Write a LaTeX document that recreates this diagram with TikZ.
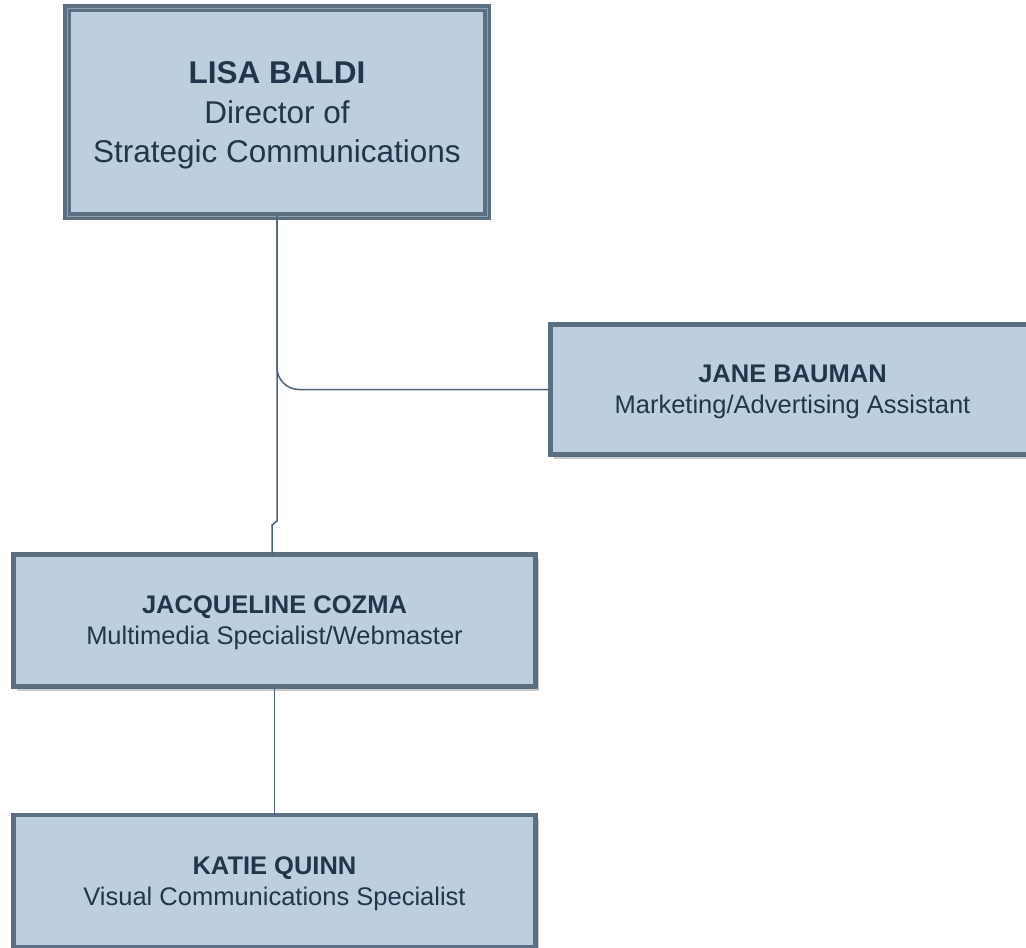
\documentclass[tikz,border=0pt]{standalone}
\usepackage{fontspec}
\setmainfont{Liberation Sans}
\usetikzlibrary{shadows}
\definecolor{boxfill}{HTML}{BDCFDF}
\definecolor{boxline}{HTML}{5C6F82}
\definecolor{boxinner}{HTML}{8FA2B4}
\definecolor{txt}{HTML}{22364B}
\definecolor{conncol}{HTML}{4E6276}
\tikzset{
  orgbox/.style={rectangle, draw=boxline, fill=boxfill, line width=4.5pt,
    inner sep=0pt, outer sep=0pt, align=center, text=txt, text depth=0pt,
    drop shadow={shadow xshift=3pt, shadow yshift=-4pt, fill=black!40, opacity=0.5},
    font={\fontsize{25.5}{31}\selectfont}},
  topbox/.style={orgbox, line width=3.5pt, double=boxinner, double distance=1pt,
    font={\fontsize{31.5}{39.5}\selectfont}},
  conn/.style={draw=conncol, line width=1.5pt}
}
\begin{document}
\begin{tikzpicture}[x=1pt,y=-1pt]
\useasboundingbox (0,0) rectangle (1026,948);
\fill[white] (0,0) rectangle (1026,948);
\node[topbox, minimum width=420pt, minimum height=208pt] (lisa) at (277,112)
  {\textbf{LISA BALDI}\\Director of\\Strategic Communications};
\node[orgbox, minimum width=484pt, minimum height=130pt] (jane) at (792.5,389.5)
  {\textbf{JANE BAUMAN}\\Marketing/Advertising Assistant};
\node[orgbox, minimum width=522pt, minimum height=132pt] (jac) at (274.5,620.5)
  {\textbf{JACQUELINE COZMA}\\Multimedia Specialist/Webmaster};
\node[orgbox, minimum width=522pt, minimum height=132pt] (katie) at (274.5,881)
  {\textbf{KATIE QUINN}\\Visual Communications Specialist};
\draw[conn, rounded corners=22pt] (lisa.south) |- (jane.west);
\draw[conn] (lisa.south) -- (lisa.south |- 0,521) -- ([xshift=-2.5pt]jac.north |- 0,525) -- ([xshift=-2.5pt]jac.north);
\draw[conn] (jac.south) -- (katie.north);
\end{tikzpicture}
\end{document}
